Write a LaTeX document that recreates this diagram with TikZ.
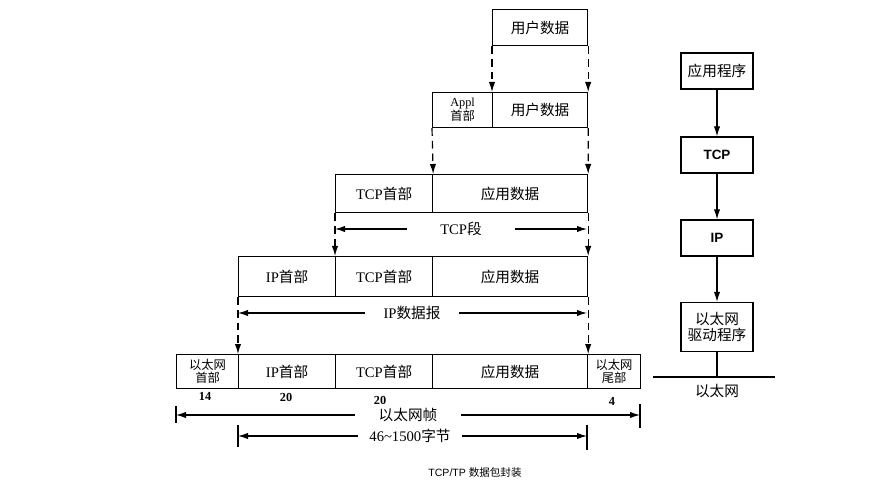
\documentclass[tikz,border=0pt]{standalone}
\usepackage{fontspec}
\setmainfont{Liberation Serif}
\setsansfont{Liberation Sans}
\newfontfamily\cjk{Noto Sans CJK SC}
\usetikzlibrary{arrows.meta}
\newcommand{\zh}[1]{{\cjk #1}}

\begin{document}
\begin{tikzpicture}[x=0.03cm, y=-0.03cm, >={Latex[length=3mm, width=1.9mm]},
  cell/.style={draw, line width=1pt, anchor=north west, inner sep=0pt,
    font=\fontsize{12.5}{14}\selectfont},
  smallcell/.style={cell, align=center, font=\fontsize{10.5}{11}\selectfont},
  layer/.style={draw, line width=1pt, minimum width=2.16cm, minimum height=1.08cm,
    inner sep=0pt, align=center, font=\fontsize{12.5}{14}\selectfont},
  down/.style={->, line width=1pt, dash pattern=on 2.3mm off 1.5mm},
  dim/.style={->, line width=1pt},
  dimlabel/.style={inner ysep=0pt, font=\fontsize{12.5}{14}\selectfont},
  count/.style={font=\fontsize{10.5}{11}\selectfont\bfseries}]

\useasboundingbox (0,0) rectangle (892,480);

% --- Row 1: user data ---
\node[cell, minimum width=2.85cm, minimum height=1.08cm] (user1) at (492,9) {\zh{用户数据}};

% --- Row 2: Appl header + user data ---
\node[smallcell, minimum width=1.8cm, minimum height=1.05cm] (applhdr) at (432,92) {Appl\\\zh{首部}};
\node[cell, minimum width=2.85cm, minimum height=1.05cm] (user2) at (492,92) {\zh{用户数据}};

% --- Row 3: TCP segment ---
\node[cell, minimum width=2.91cm, minimum height=1.14cm] (tcphdr3) at (335,174) {TCP\zh{首部}};
\node[cell, minimum width=4.65cm, minimum height=1.14cm] (appdata3) at (432,174) {\zh{应用数据}};

% --- Row 4: IP datagram ---
\node[cell, minimum width=2.91cm, minimum height=1.2cm] (iphdr4) at (238,256) {IP\zh{首部}};
\node[cell, minimum width=2.91cm, minimum height=1.2cm] (tcphdr4) at (335,256) {TCP\zh{首部}};
\node[cell, minimum width=4.65cm, minimum height=1.2cm] (appdata4) at (432,256) {\zh{应用数据}};

% --- Row 5: Ethernet frame ---
\node[smallcell, minimum width=1.86cm, minimum height=1.02cm] (ethhdr) at (176,354) {\zh{以太网}\\\zh{首部}};
\node[cell, minimum width=2.91cm, minimum height=1.02cm] (iphdr5) at (238,354) {IP\zh{首部}};
\node[cell, minimum width=2.91cm, minimum height=1.02cm] (tcphdr5) at (335,354) {TCP\zh{首部}};
\node[cell, minimum width=4.65cm, minimum height=1.02cm] (appdata5) at (432,354) {\zh{应用数据}};
\node[smallcell, minimum width=1.59cm, minimum height=1.02cm] (ethtrl) at (587,354) {\zh{以太网}\\\zh{尾部}};

% --- Field sizes ---
\node[count] (n14) at (205,396) {14};
\node[count] (n20a) at (286,397) {20};
\node[count] (n20b) at (380,400) {20};
\node[count] (n4) at (612,401) {4};

% --- Encapsulation (dashed) ---
\draw[down] (user1.south west) -- (user2.north west);
\draw[down] (user1.south east) -- (user2.north east);
\draw[down] (applhdr.south west) -- (tcphdr3.north east);
\draw[down] (user2.south east) -- (appdata3.north east);
\draw[down] (tcphdr3.south west) -- (tcphdr4.north west);
\draw[down] (appdata3.south east) -- (appdata4.north east);
\draw[down] (iphdr4.south west) -- (iphdr5.north west);
\draw[down] (appdata4.south east) -- (appdata5.north east);

% --- Length arrows ---
\coordinate (tcpsegL) at (335,229);
\coordinate (tcpsegR) at (587,229);
\node[dimlabel, inner xsep=1cm] (tcpseg) at (461,229) {TCP\zh{段}};
\draw[dim] (tcpseg) -- (tcpsegL);
\draw[dim] (tcpseg) -- (tcpsegR);

\coordinate (ipdgL) at (238,313);
\coordinate (ipdgR) at (587,313);
\node[dimlabel, inner xsep=0.55cm] (ipdg) at (412,313) {IP\zh{数据报}};
\draw[dim] (ipdg) -- (ipdgL);
\draw[dim] (ipdg) -- (ipdgR);

\coordinate (frameL) at (176,415);
\coordinate (frameR) at (640,415);
\node[dimlabel, inner xsep=0.7cm] (frame) at (408,415) {\zh{以太网帧}};
\draw[dim] (frame) -- (frameL);
\draw[dim] (frame) -- (frameR);
\draw[line width=1pt] (frameL) ++(0,-9) -- ++(0,17);
\draw[line width=1pt] (frameR) ++(0,-11) -- ++(0,24);

\coordinate (payloadL) at (238,436);
\coordinate (payloadR) at (587,436);
\node[dimlabel, inner xsep=0.35cm] (payload) at (410,436) {46\textasciitilde1500\zh{字节}};
\draw[dim] (payload) -- (payloadL);
\draw[dim] (payload) -- (payloadR);
\draw[line width=1pt] (payloadL) ++(0,-11) -- ++(0,22);
\draw[line width=1pt] (payloadR) ++(0,-11) -- ++(0,25);

% --- Protocol stack ---
\node[layer] (app) at (717,71) {\zh{应用程序}};
\node[layer, font=\fontsize{11.5}{13}\sffamily\bfseries] (tcp) at (717,155) {TCP};
\node[layer, font=\fontsize{11.5}{13}\sffamily\bfseries] (ip) at (717,238) {IP};
\node[layer, minimum height=1.47cm] (driver) at (717,327) {\zh{以太网}\\\zh{驱动程序}};
\draw[dim] (app) -- (tcp);
\draw[dim] (tcp) -- (ip);
\draw[dim] (ip) -- (driver);

\coordinate (busL) at (653,377);
\coordinate (busR) at (775,377);
\draw[line width=2pt] (busL) -- (busR);
\draw[line width=1pt] (driver) -- (driver |- busL);
\node[font=\fontsize{12.5}{14}\selectfont] (ethname) at (717,391) {\zh{以太网}};

% --- Caption ---
\node[font=\fontsize{9}{10}\sffamily] (caption) at (475,472) {TCP/TP \zh{数据包封装}};

\end{tikzpicture}
\end{document}
